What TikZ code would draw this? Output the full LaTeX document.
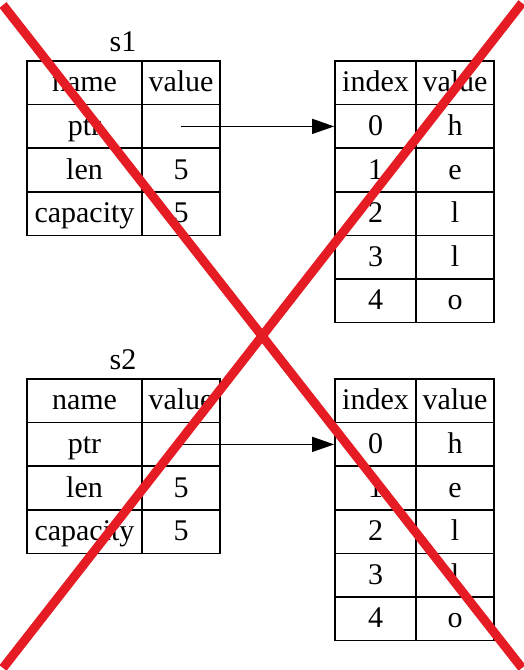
\documentclass[tikz,border=0pt]{standalone}
\usepackage{fontspec}
\setmainfont{Liberation Serif}
\usetikzlibrary{arrows.meta, positioning}
\definecolor{crossred}{RGB}{229, 28, 36}

\begin{document}
\begin{tikzpicture}[x=1pt, y=-1pt, >={Triangle[length=22pt, width=15pt]},
    cell/.style={draw, line width=1.7pt, inner sep=0pt, minimum height=43.6pt,
        text height=22pt, text depth=4pt, font=\fontsize{30}{32}\selectfont},
    namecell/.style={cell, minimum width=115pt},
    valcell/.style={cell, minimum width=78pt},
    idxcell/.style={cell, minimum width=81pt},
    stacklabel/.style={font=\fontsize{30}{32}\selectfont}]
\useasboundingbox[fill=white] (0,0) rectangle (524,670);
\foreach \s/\dy in {1/0, 2/318} {
\begin{scope}[shift={(0,\dy)}]
    % stack frame
    \node[stacklabel] (s\s) at (123,42) {s\s};
    \foreach \n/\v [count=\i from 0] in {name/value, ptr/{}, len/5, capacity/5} {
        \node[namecell] (s\s n\i) at (84.5, 82.8+43.6*\i) {\n};
        \node[valcell] (s\s v\i) at (181, 82.8+43.6*\i) {\v};
    }
    % heap buffer
    \foreach \k/\c [count=\i from 0] in {index/value, 0/h, 1/e, 2/l, 3/l, 4/o} {
        \node[idxcell] (h\s i\i) at (375.5, 82.8+43.6*\i) {\k};
        \node[valcell] (h\s c\i) at (455, 82.8+43.6*\i) {\c};
    }
    \draw[->, line width=1.4pt] (s\s v1.center) -- (h\s i1.west);
\end{scope}
}
% crossed out
\draw[crossred, line width=9pt] (3,5) -- (522,668);
\draw[crossred, line width=9pt] (522,3) -- (3,668);
\end{tikzpicture}
\end{document}
